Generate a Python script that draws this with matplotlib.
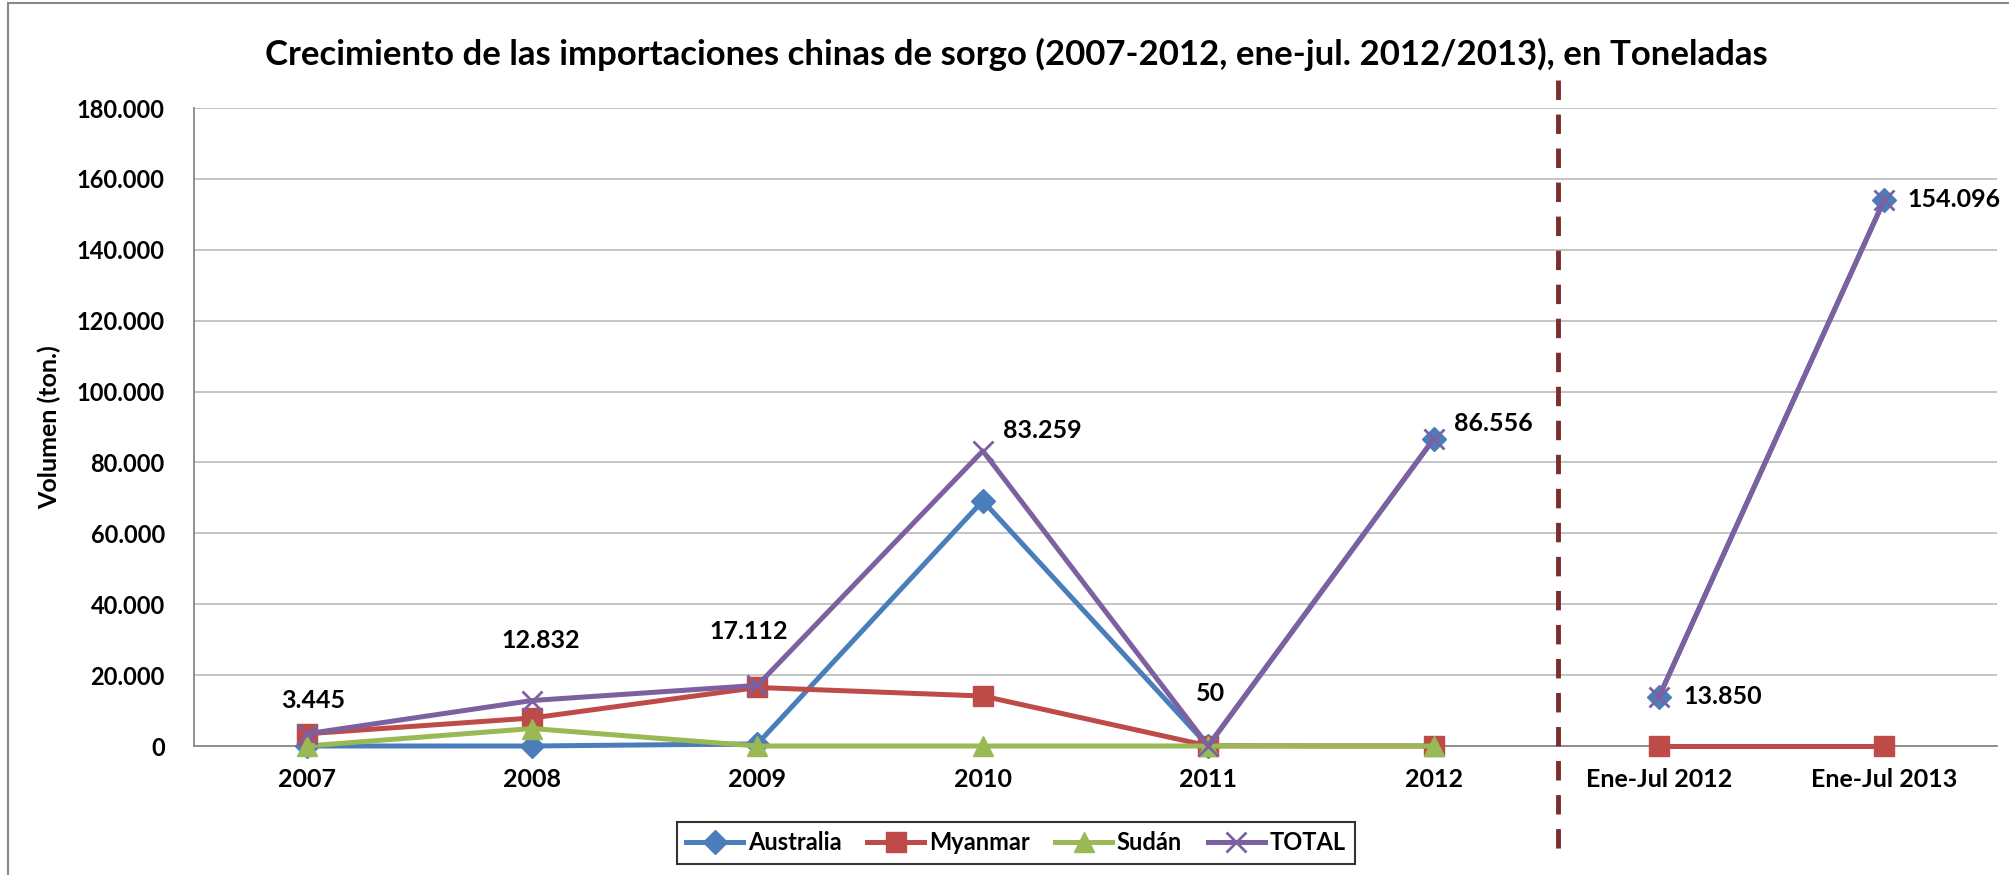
import matplotlib
matplotlib.use("Agg")
import matplotlib.pyplot as plt
import numpy as np
from matplotlib.ticker import FuncFormatter, MultipleLocator
from matplotlib.lines import Line2D
from matplotlib.patches import Rectangle

plt.rcParams['font.family'] = ['Lato', 'DejaVu Sans']

# Data
categorias = ['2007', '2008', '2009', '2010', '2011', '2012', 'Ene-Jul 2012', 'Ene-Jul 2013']
australia = [0, 0, 600, 69159, 0, 86556, 13850, 154096]
myanmar = [3445, 7900, 16512, 14100, 50, 0, 0, 0]
sudan = [0, 4932, 0, 0, 0, 0, np.nan, np.nan]
total = [3445, 12832, 17112, 83259, 50, 86556, 13850, 154096]
etiquetas_total = ['3.445', '12.832', '17.112', '83.259', '50', '86.556', '13.850', '154.096']

series = [
    ('Australia', australia, '#4A7EBB', 'D', 12),
    ('Myanmar', myanmar, '#BE4B48', 's', 14),
    ('Sudán', sudan, '#98B954', '^', 14),
    ('TOTAL', total, '#7D60A0', 'x', 14),
]

fig = plt.figure(figsize=(20.09, 8.75), dpi=100)
ax = fig.add_axes([194 / 2009, 1 - 746 / 875, (1997 - 194) / 2009, (746 - 108) / 875])

x = np.arange(len(categorias))
handles = []
for nombre, vals, color, mk, ms in series:
    vals = np.array(vals, dtype=float)
    # the annual years and the Jan-Jul periods are not joined
    for tramo in (slice(0, 6), slice(6, 8)):
        ax.plot(x[tramo], vals[tramo], color=color, lw=3.6, marker=mk, ms=ms,
                mew=2 if mk == 'x' else 1, mec=color, mfc=color, clip_on=False, zorder=3)
    handles.append(Line2D([], [], color=color, lw=3.6, marker=mk, ms=ms,
                          mew=2 if mk == 'x' else 1, label=nombre))

# data labels on TOTAL (offsets in points from each point, label centred)
offsets = [(5, 24), (6, 43), (-6, 39), (43, 15), (2, 38), (43, 11), (46, 0), (50, 0)]
for i, (txt, (dx, dy)) in enumerate(zip(etiquetas_total, offsets)):
    ax.annotate(txt, (x[i], total[i]), xytext=(dx, dy), textcoords='offset points',
                ha='center', va='center', fontsize=18, fontweight='bold')

ax.set_xlim(-0.5, len(categorias) - 0.5)
ax.set_ylim(0, 180000)
ax.yaxis.set_major_locator(MultipleLocator(20000))
ax.yaxis.set_major_formatter(FuncFormatter(lambda v, p: f'{int(v):,}'.replace(',', '.')))
ax.set_xticks(x)
ax.set_xticklabels(categorias)
ax.tick_params(axis='both', length=0, labelsize=18)
ax.tick_params(axis='y', labelsize=17)
ax.tick_params(axis='x', pad=16)
ax.tick_params(axis='y', pad=21)
for lab in ax.get_xticklabels() + ax.get_yticklabels():
    lab.set_fontweight('bold')
ax.grid(axis='y', color='#BFBFBF', lw=1.3)
ax.set_axisbelow(True)
for s in ['top', 'right']:
    ax.spines[s].set_visible(False)
ax.spines['left'].set_color('#888888')
ax.spines['bottom'].set_color('#888888')
ax.spines['left'].set_linewidth(1.3)
ax.spines['bottom'].set_linewidth(1.3)

ax.set_ylabel('Volumen (ton.)', fontsize=18, fontweight='bold', labelpad=11)

# dashed separator between years and Jan-Jul periods
sep_x = (1216 / 0.7805) / 2009
fig.add_artist(Line2D([sep_x, sep_x], [1 - 80 / 875, 1 - 850 / 875], color='#7B2C2C',
                      lw=3.5, ls=(0, (4, 3))))

fig.suptitle('Crecimiento de las importaciones chinas de sorgo (2007-2012, ene-jul. 2012/2013), en Toneladas',
             x=0.506, y=1 - 54 / 875, va='center', fontsize=25, fontweight='bold')

leg = fig.legend(handles=handles, loc='center', bbox_to_anchor=(1016 / 2009, 1 - 843 / 875),
                 ncol=4, fontsize=17, frameon=True, fancybox=False, edgecolor='black',
                 handlelength=2.4, columnspacing=1.1, handletextpad=0.2, borderpad=0.4)
leg.get_frame().set_linewidth(1.5)
for t in leg.get_texts():
    t.set_fontweight('bold')

# outer chart border
fig.add_artist(Rectangle((8 / 2009, -0.01), 1.1, 1 - 3 / 875 + 0.01, transform=fig.transFigure,
                         fill=False, edgecolor='#888888', lw=1.5))

fig.savefig('out.png', dpi=100)
